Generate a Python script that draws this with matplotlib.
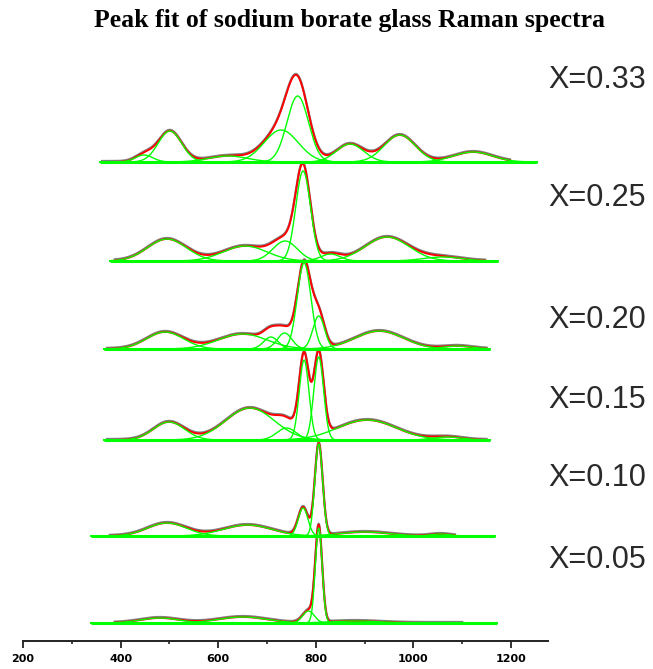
"""
Peak fit of sodium borate glass Raman spectra: stacked spectra, Gaussian components
"""

import numpy as np
import matplotlib
matplotlib.use("Agg")
import matplotlib.pyplot as plt

# ---- data: Gaussian components (centre cm^-1, height a.u., sigma cm^-1) ----
LABELS = ["X=0.33", "X=0.25", "X=0.20", "X=0.15", "X=0.10", "X=0.05"]

PEAKS_033 = [(448, 7, 18), (501, 31, 24), (620, 6, 40), (729, 32, 35),
             (763, 66, 22), (870, 18, 28), (972, 27, 32), (1122, 10, 40)]
PEAKS_025 = [(495, 22, 40), (655, 15, 45), (737, 20, 25), (774, 90, 15),
             (830, 7, 20), (946, 24, 45), (1060, 4, 40)]
PEAKS_020 = [(491, 17, 38), (650, 15, 50), (708, 12, 15), (736, 16, 15),
             (776, 86, 14), (806, 33, 12), (930, 18, 50), (1090, 3, 30)]
PEAKS_015 = [(499, 18, 32), (665, 32, 50), (740, 12, 20), (776, 80, 10),
             (806, 83, 10), (905, 20, 60), (1070, 3, 30)]
PEAKS_010 = [(495, 13, 40), (660, 11, 50), (774, 28, 10), (806, 92, 8),
             (900, 4, 50), (1055, 2, 20)]
PEAKS_005 = [(480, 5, 40), (650, 6, 50), (785, 12, 12), (806, 95, 7),
             (880, 2, 50)]

ALL_PEAKS = [PEAKS_033, PEAKS_025, PEAKS_020, PEAKS_015, PEAKS_010, PEAKS_005]

# measured range (start, end) and baseline range, cm^-1
DATA_RANGE = [(362, 1198), (388, 1147), (372, 1150), (372, 1150), (378, 1085), (388, 1100)]
BASE_RANGE = [(358, 1253), (378, 1173), (366, 1157), (366, 1157), (339, 1167), (339, 1171)]

TICKS = [200, 400, 600, 800, 1000, 1200]

# ---- layout (pixels of a 653x669 figure) ----
W, H = 653, 669
PX_PER_CM = 0.488
X0_PX = 23           # pixel of 200 cm^-1
BASE_PX = [162, 261, 349, 440, 536, 623]
LABEL_PX = [80, 198, 320, 400, 478, 560]
AXIS_PX = 641


def px_to_cm(px):
    return 200 + (px - X0_PX) / PX_PER_CM


def gauss(x, c, h, s):
    return h * np.exp(-(x - c) ** 2 / (2 * s ** 2))


fig = plt.figure(figsize=(W / 100, H / 100), dpi=100)
ax = fig.add_axes([0, 0, 1, 1])
ax.set_xlim(px_to_cm(0), px_to_cm(W))
ax.set_ylim(0, H)

GREEN = "#00ff00"
RED = "#ff0000"
GRAY = "#808080"

for peaks, drange, brange, bpx in zip(ALL_PEAKS, DATA_RANGE, BASE_RANGE, BASE_PX):
    off = H - bpx
    xd = np.linspace(drange[0], drange[1], 800)
    fit = sum(gauss(xd, c, h, s) for c, h, s in peaks)
    ax.plot(xd, off + fit + 1.0, color=GRAY, lw=1.6, zorder=2)
    ax.plot(xd, off + fit, color=RED, lw=1.4, zorder=3)

    xb = np.linspace(brange[0], brange[1], 1200)
    for c, h, s in peaks:
        ax.plot(xb, off + gauss(xb, c, h, s), color=GREEN, lw=1.0, zorder=4)
    ax.plot(brange, [off, off], color=GREEN, lw=2.2, zorder=5, solid_capstyle="butt")

# x axis
for side in ["top", "left", "right"]:
    ax.spines[side].set_visible(False)
ax.spines["bottom"].set_position(("data", H - AXIS_PX))
ax.spines["bottom"].set_bounds(200, px_to_cm(548))
ax.spines["bottom"].set_linewidth(1.4)
ax.spines["bottom"].set_color("#222222")
ax.set_yticks([])
ax.set_xticks(TICKS)
ax.set_xticks([t + 100 for t in TICKS[:-1]], minor=True)
ax.set_xticklabels([str(t) for t in TICKS], fontsize=8, fontweight="bold",
                   family="DejaVu Sans")
ax.tick_params(axis="x", which="major", direction="out", length=5, width=1.3,
               color="#222222", pad=4)
ax.tick_params(axis="x", which="minor", direction="out", length=2.5, width=1.2,
               color="#222222")
ax.patch.set_visible(False)

for lab, ly in zip(LABELS, LABEL_PX):
    fig.text(548 / W, 1 - ly / H, lab, ha="left", va="center", fontsize=22,
             color="#2a2a2a", family=["Liberation Sans", "DejaVu Sans"])

fig.text(349 / W, 1 - 20 / H, "Peak fit of sodium borate glass Raman spectra",
         ha="center", va="center", fontsize=18.5, fontweight="bold",
         family=["Liberation Serif", "DejaVu Serif"])

fig.savefig("out.png", dpi=100)
